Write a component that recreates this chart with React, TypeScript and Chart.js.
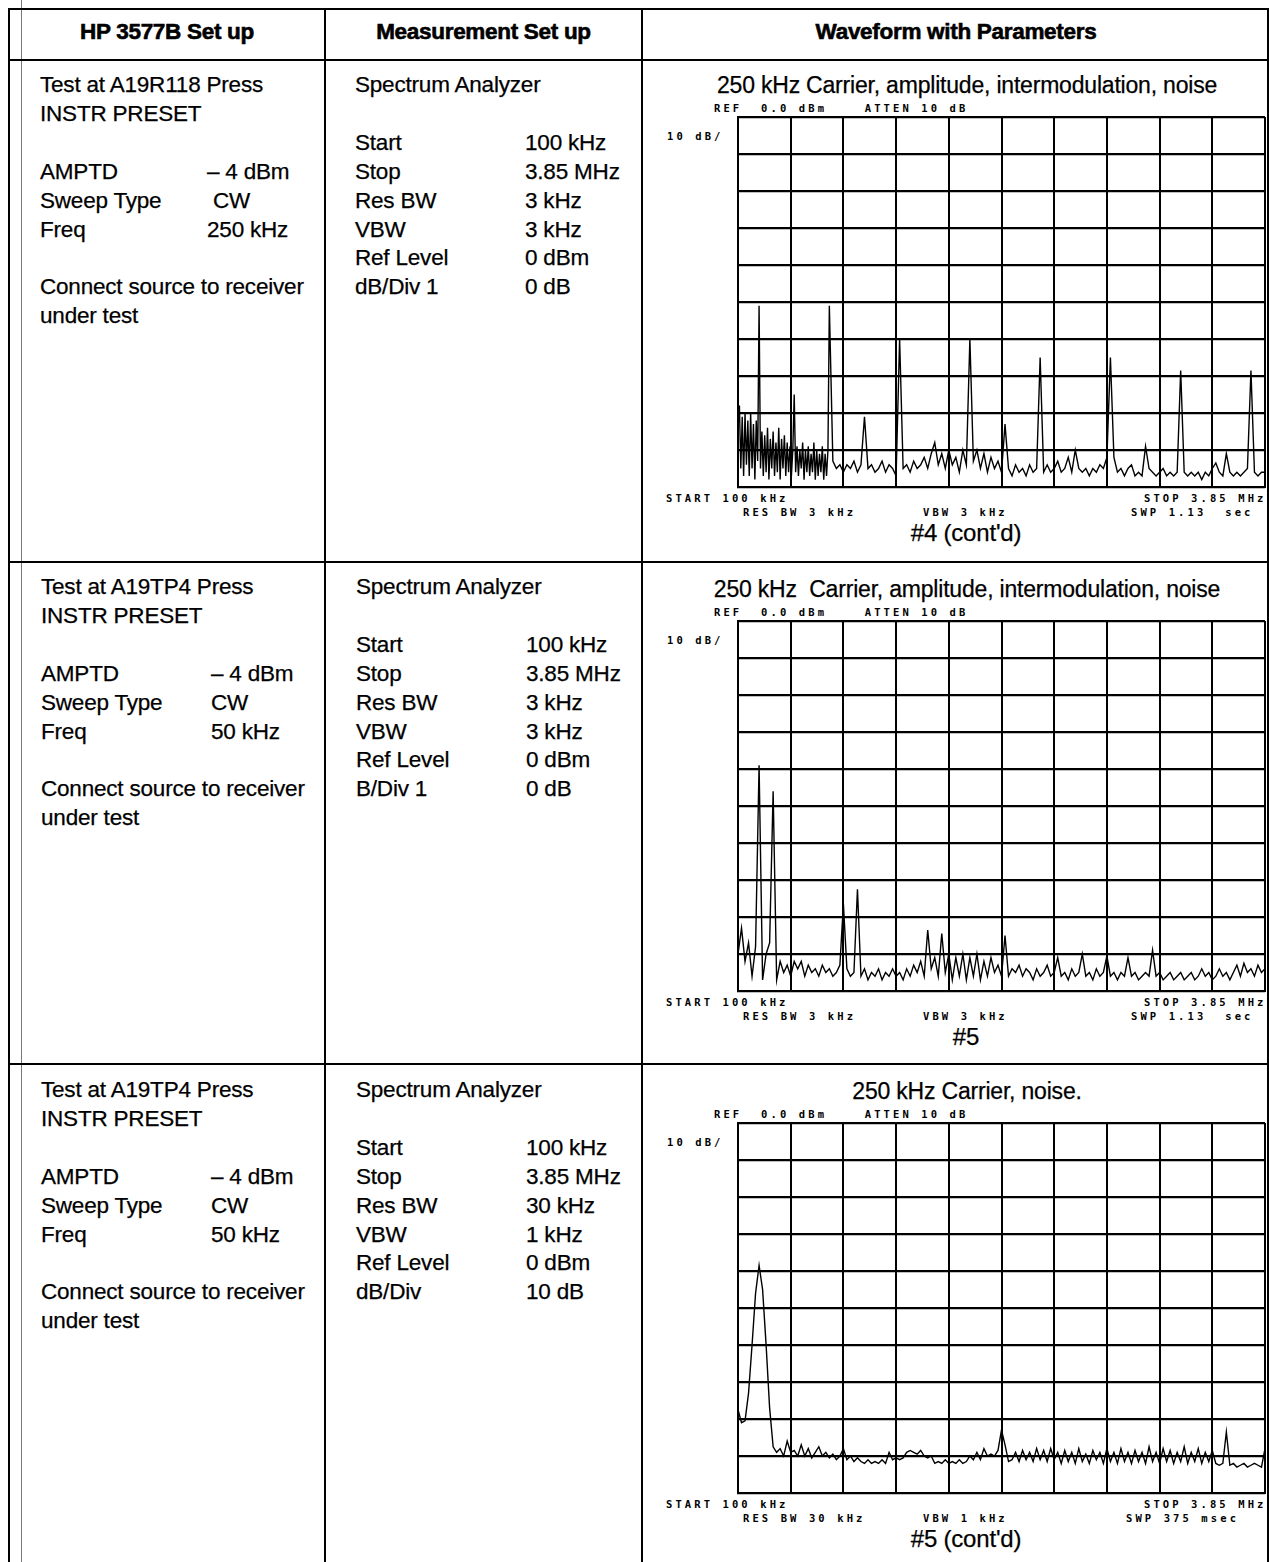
import React, { useEffect, useRef } from "react";
import { Chart, registerables } from "chart.js";

Chart.register(...registerables);

// ---------- axis definitions (MHz / dBm) ----------
const FREQ_START = 0.1;
const FREQ_STOP = 3.85;
const xTickValues = [0.1, 0.475, 0.85, 1.225, 1.6, 1.975, 2.35, 2.725, 3.1, 3.475, 3.85];
const yTickValues = [0, -10, -20, -30, -40, -50, -60, -70, -80, -90, -100];

// ---------- trace #4 (cont'd): 250 kHz carrier, harmonics ----------
const plot1DenseStart = 0.1;
const plot1DenseStep = 0.01;
const plot1DenseDb = [
  -84, -78, -95, -81, -97, -80, -94, -82, -97, -80,
  -95, -83, -98, -82, -93, -51, -95, -85, -97, -86,
  -96, -84, -98, -87, -95, -85, -97, -88, -96, -84,
  -98, -87, -95, -86, -97, -88, -96, -89, -97, -90,
  -75, -96, -89, -97, -90, -95, -88, -98, -90, -96,
  -89, -97, -91, -96, -88, -98, -90, -97, -91, -96,
  -89, -98, -91, -97, -90, -51,
];
const plot1FloorStart = 0.775;
const plot1FloorStep = 0.025;
const plot1FloorDb = [
  -93, -95, -94, -96, -94, -95, -93, -96, -94, -81,
  -95, -94, -96, -95, -93, -96, -94, -95, -97, -60,
  -95, -94, -96, -93, -95, -94, -92, -95, -91, -88,
  -94, -91, -95, -90, -94, -92, -96, -90, -94, -60,
  -93, -90, -95, -91, -96, -92, -95, -93, -96, -83,
  -95, -97, -94, -96, -95, -97, -94, -96, -95, -65,
  -96, -94, -96, -95, -93, -96, -95, -92, -96, -90,
  -95, -96, -95, -97, -95, -96, -94, -95, -92, -65,
  -92, -96, -95, -97, -95, -94, -97, -96, -97, -89,
  -95, -96, -97, -96, -95, -97, -96, -97, -96, -68.5,
  -96, -97, -96, -97, -96, -98, -96, -97, -95, -93.5,
  -96, -97, -91, -96, -97, -96, -97, -96, -95, -68.5,
  -96, -97, -96, -96,
];

// ---------- trace #5 ----------
const plot2Start = 0.1;
const plot2Step = 0.025;
const plot2Db = [
  -90, -83, -92, -87, -96, -88, -39, -97, -90, -87,
  -46, -97, -92, -95, -93, -96, -92, -94, -92, -96,
  -93, -95, -94, -96, -93, -95, -94, -96, -95, -93,
  -76.5, -94, -96, -95, -72.5, -96, -94, -97, -95, -96,
  -94, -97, -95, -96, -94, -96, -95, -97, -94, -96,
  -93, -95, -92, -96, -83.5, -94, -91, -96, -84.5, -95,
  -90, -97, -91, -96, -90, -97, -91, -96, -90, -97,
  -92, -96, -91, -95, -93, -96, -85, -96, -94, -95,
  -93, -96, -94, -95, -97, -94, -96, -95, -93, -96,
  -95, -91, -96, -95, -97, -94, -96, -95, -90, -96,
  -95, -97, -94, -96, -95, -90.5, -96, -95, -97, -95,
  -96, -91, -96, -95, -97, -96, -95, -96, -89, -96,
  -95, -97, -96, -95, -97, -96, -95, -97, -96, -95,
  -97, -96, -94, -96, -95, -97, -96, -94, -96, -95,
  -97, -95, -93, -96, -92.5, -95, -94, -96, -93, -95,
  -94,
];

// ---------- trace #5 (cont'd): 30 kHz RBW ----------
const plot3Start = 0.1;
const plot3Step = 0.025;
const plot3Db = [
  -77.5, -81, -80.5, -73, -60, -46, -38.5, -45, -60, -77,
  -87.5, -89, -88, -90, -86, -89, -88.5, -90, -87, -90,
  -88, -90.5, -89, -87.5, -90, -89, -90.5, -89.5, -91, -90,
  -88, -91, -90, -91.5, -90.5, -91.5, -92, -91, -92, -91.5,
  -92, -91, -92, -89, -91, -90.5, -91, -90.5, -89, -88.5,
  -89, -89.5, -88.5, -90, -90.5, -90, -92, -91.5, -92, -91,
  -92, -91.5, -92, -91, -92, -91.5, -90, -91, -89, -91,
  -88, -90, -89.5, -90, -88.5, -83, -87, -91.5, -91, -89,
  -91.5, -88.5, -91, -89, -91.5, -88, -91, -88.5, -91.5, -88,
  -91, -89, -92, -88.5, -91.5, -89, -92, -88, -91.5, -89.5,
  -92, -88.5, -91, -89, -92, -88, -91.5, -89, -92, -88,
  -91.5, -89, -92, -88.5, -91.5, -89, -92, -87.5, -91.5, -89,
  -92, -88, -91.5, -88.5, -92, -89, -91.5, -87.5, -92, -89,
  -91.5, -88, -92, -89, -91.5, -88.5, -92, -92.5, -92, -83.5,
  -92.5, -92, -93, -92.5, -92, -93, -92.5, -92, -92.5, -93,
  -88,
];

// ---------- table text ----------
const headerLabels = ["HP 3577B Set up", "Measurement Set up", "Waveform with Parameters"];
const rowTests = ["Test at A19R118 Press", "Test at A19TP4 Press", "Test at A19TP4 Press"];
const rowAmptd = ["– 4 dBm", "– 4 dBm", "– 4 dBm"];
const rowSweep = [" CW", "CW", "CW"];
const rowFreq = ["250 kHz", "50 kHz", "50 kHz"];
const measLabels = [
  ["Start", "Stop", "Res BW", "VBW", "Ref Level", "dB/Div 1"],
  ["Start", "Stop", "Res BW", "VBW", "Ref Level", "B/Div 1"],
  ["Start", "Stop", "Res BW", "VBW", "Ref Level", "dB/Div"],
];
const measValues = [
  ["100 kHz", "3.85 MHz", "3 kHz", "3 kHz", "0 dBm", "0 dB"],
  ["100 kHz", "3.85 MHz", "3 kHz", "3 kHz", "0 dBm", "0 dB"],
  ["100 kHz", "3.85 MHz", "30 kHz", "1 kHz", "0 dBm", "10 dB"],
];
const plotTitles = [
  "250 kHz Carrier, amplitude, intermodulation, noise",
  "250 kHz  Carrier, amplitude, intermodulation, noise",
  "250 kHz Carrier, noise.",
];
const plotResBw = ["RES BW 3 kHz", "RES BW 3 kHz", "RES BW 30 kHz"];
const plotVbw = ["VBW 3 kHz", "VBW 3 kHz", "VBW 1 kHz"];
const plotSwp = ["SWP 1.13  sec", "SWP 1.13  sec", "SWP 375 msec"];
const plotCaptions = ["#4 (cont'd)", "#5", "#5 (cont'd)"];

type Pt = { x: number; y: number };
const toPoints = (start: number, step: number, vals: number[]): Pt[] =>
  vals.map((v, i) => ({ x: +(start + i * step).toFixed(4), y: v }));

const traces: Pt[][] = [
  [...toPoints(plot1DenseStart, plot1DenseStep, plot1DenseDb), ...toPoints(plot1FloorStart, plot1FloorStep, plot1FloorDb)],
  toPoints(plot2Start, plot2Step, plot2Db),
  toPoints(plot3Start, plot3Step, plot3Db),
];

// ---------- layout ----------
const ROW_TOPS = [59, 561, 1063];
const TEXT_BASES = [85, 587, 1090];
const GRID_TOPS = [117, 621, 1123];
const GRID_LEFT = 738;
const GRID_W = 527;
const GRID_H = 370;
const LINE_H = 28.9;
const PAD = 4;

const bodyFont = "'Liberation Sans', Arial, Helvetica, sans-serif";
const plotFont = "'DejaVu Sans Mono', 'Liberation Mono', monospace";

function Txt(props: { x: number; y: number; text: string; size?: number; bold?: boolean; center?: boolean; w?: number }) {
  const size = props.size ?? 22.5;
  const lh = 30;
  const style: React.CSSProperties = {
    position: "absolute",
    top: props.y - lh / 2,
    left: props.center ? props.x - (props.w ?? 400) / 2 : props.x,
    width: props.center ? props.w ?? 400 : undefined,
    textAlign: props.center ? "center" : "left",
    fontFamily: bodyFont,
    fontSize: size,
    fontWeight: props.bold ? 700 : 400,
    lineHeight: lh + "px",
    whiteSpace: "pre",
    color: "#000",
    letterSpacing: props.bold ? "-0.3px" : "-0.2px",
    WebkitTextStroke: props.bold ? "0.6px #000" : "0.25px #000",
  };
  return <div style={style}>{props.text}</div>;
}

function PTxt(props: { x: number; y: number; text: string }) {
  const style: React.CSSProperties = {
    position: "absolute",
    top: props.y - 7,
    left: props.x,
    fontFamily: plotFont,
    fontSize: 10.5,
    fontWeight: 700,
    lineHeight: "14px",
    letterSpacing: "3.1px",
    whiteSpace: "pre",
    color: "#000",
  };
  return <div style={style}>{props.text}</div>;
}

function Line(props: { x: number; y: number; w: number; h: number; c?: string }) {
  return (
    <div
      style={{
        position: "absolute",
        left: props.x,
        top: props.y,
        width: props.w,
        height: props.h,
        background: props.c ?? "#000",
      }}
    />
  );
}

function SpectrumChart(props: { points: Pt[]; top: number }) {
  const ref = useRef<HTMLCanvasElement>(null);
  useEffect(() => {
    if (!ref.current) return;
    const chart = new Chart(ref.current, {
      type: "line",
      data: {
        datasets: [
          {
            data: props.points as any,
            borderColor: "#000",
            borderWidth: 1.4,
            pointRadius: 0,
            tension: 0,
            fill: false,
          },
        ],
      },
      options: {
        animation: false,
        responsive: false,
        maintainAspectRatio: false,
        devicePixelRatio: 1,
        layout: { padding: PAD },
        plugins: {
          legend: { display: false },
          tooltip: { enabled: false },
          title: { display: false },
        },
        scales: {
          x: {
            type: "linear",
            min: FREQ_START,
            max: FREQ_STOP,
            afterBuildTicks: (axis: any) => {
              axis.ticks = xTickValues.map((value) => ({ value }));
            },
            afterFit: (s: any) => {
              s.height = 0;
            },
            ticks: { display: false },
            grid: { color: "#000", lineWidth: 2, drawTicks: false },
            border: { display: true, color: "#000", width: 2 },
          },
          y: {
            type: "linear",
            min: -100,
            max: 0,
            afterBuildTicks: (axis: any) => {
              axis.ticks = yTickValues.map((value) => ({ value }));
            },
            afterFit: (s: any) => {
              s.width = 0;
            },
            ticks: { display: false },
            grid: { color: "#000", lineWidth: 2.2, drawTicks: false },
            border: { display: true, color: "#000", width: 2 },
          },
        },
      },
    });
    return () => chart.destroy();
  }, []);
  return (
    <canvas
      ref={ref}
      width={GRID_W + 2 * PAD}
      height={GRID_H + 2 * PAD}
      style={{
        position: "absolute",
        left: GRID_LEFT - PAD,
        top: props.top - PAD,
        width: GRID_W + 2 * PAD,
        height: GRID_H + 2 * PAD,
      }}
    />
  );
}

export default function App() {
  const els: React.ReactNode[] = [];

  // table lines
  els.push(<Line key="lv0" x={8} y={8} w={2} h={1554} />);
  els.push(<Line key="lvthin" x={21} y={0} w={1} h={1562} c="#777" />);
  els.push(<Line key="lv1" x={324} y={8} w={2} h={1554} />);
  els.push(<Line key="lv2" x={641} y={8} w={2} h={1554} />);
  els.push(<Line key="lv3" x={1267} y={8} w={2} h={1554} />);
  els.push(<Line key="lh0" x={8} y={8} w={1261} h={2} />);
  ROW_TOPS.forEach((t, i) => els.push(<Line key={"lh" + (i + 1)} x={8} y={t} w={1261} h={2} />));

  // header
  els.push(<Txt key="h0" x={167} y={32} text={headerLabels[0]} bold center />);
  els.push(<Txt key="h1" x={483.5} y={32} text={headerLabels[1]} bold center />);
  els.push(<Txt key="h2" x={956} y={32} text={headerLabels[2]} bold center />);

  for (let r = 0; r < 3; r++) {
    const b = TEXT_BASES[r];
    const x1 = r === 0 ? 40 : 41;
    const v1 = r === 0 ? 207 : 211;
    const x2 = r === 0 ? 355 : 356;
    const v2 = r === 0 ? 525 : 526;
    els.push(<Txt key={`t${r}a`} x={x1} y={b} text={rowTests[r]} />);
    els.push(<Txt key={`t${r}b`} x={x1} y={b + LINE_H} text="INSTR PRESET" />);
    els.push(<Txt key={`t${r}c`} x={x1} y={b + 3 * LINE_H} text="AMPTD" />);
    els.push(<Txt key={`t${r}cv`} x={v1} y={b + 3 * LINE_H} text={rowAmptd[r]} />);
    els.push(<Txt key={`t${r}d`} x={x1} y={b + 4 * LINE_H} text="Sweep Type" />);
    els.push(<Txt key={`t${r}dv`} x={v1} y={b + 4 * LINE_H} text={rowSweep[r]} />);
    els.push(<Txt key={`t${r}e`} x={x1} y={b + 5 * LINE_H} text="Freq" />);
    els.push(<Txt key={`t${r}ev`} x={v1} y={b + 5 * LINE_H} text={rowFreq[r]} />);
    els.push(<Txt key={`t${r}f`} x={x1} y={b + 7 * LINE_H} text="Connect source to receiver" />);
    els.push(<Txt key={`t${r}g`} x={x1} y={b + 8 * LINE_H} text="under test" />);

    els.push(<Txt key={`m${r}a`} x={x2} y={b} text="Spectrum Analyzer" />);
    measLabels[r].forEach((lab, k) => {
      els.push(<Txt key={`m${r}l${k}`} x={x2} y={b + (k + 2) * LINE_H} text={lab} />);
      els.push(<Txt key={`m${r}v${k}`} x={v2} y={b + (k + 2) * LINE_H} text={measValues[r][k]} />);
    });

    // plot area
    const gt = GRID_TOPS[r];
    const gb = gt + GRID_H;
    els.push(<Txt key={`p${r}t`} x={967} y={gt - 32} text={plotTitles[r]} size={23} center w={600} />);
    els.push(<PTxt key={`p${r}ref`} x={714} y={gt - 9.5} text={"REF  0.0 dBm    ATTEN 10 dB"} />);
    els.push(<PTxt key={`p${r}db`} x={667} y={gt + 18.5} text={"10 dB/"} />);
    els.push(<PTxt key={`p${r}st`} x={666} y={gb + 11} text={"START 100 kHz"} />);
    els.push(<PTxt key={`p${r}sp`} x={1144} y={gb + 11} text={"STOP 3.85 MHz"} />);
    els.push(<PTxt key={`p${r}rb`} x={743} y={gb + 25} text={plotResBw[r]} />);
    els.push(<PTxt key={`p${r}vb`} x={923} y={gb + 25} text={plotVbw[r]} />);
    els.push(<PTxt key={`p${r}sw`} x={r === 2 ? 1126 : 1131} y={gb + 25} text={plotSwp[r]} />);
    els.push(<Txt key={`p${r}c`} x={966} y={gb + 46} text={plotCaptions[r]} size={24} center w={300} />);
    els.push(<SpectrumChart key={`chart${r}`} points={traces[r]} top={gt} />);
  }

  return (
    <div
      style={{
        position: "absolute",
        left: 0,
        top: 0,
        width: 1269,
        height: 1562,
        background: "#fff",
        overflow: "hidden",
      }}
    >
      {els}
    </div>
  );
}
